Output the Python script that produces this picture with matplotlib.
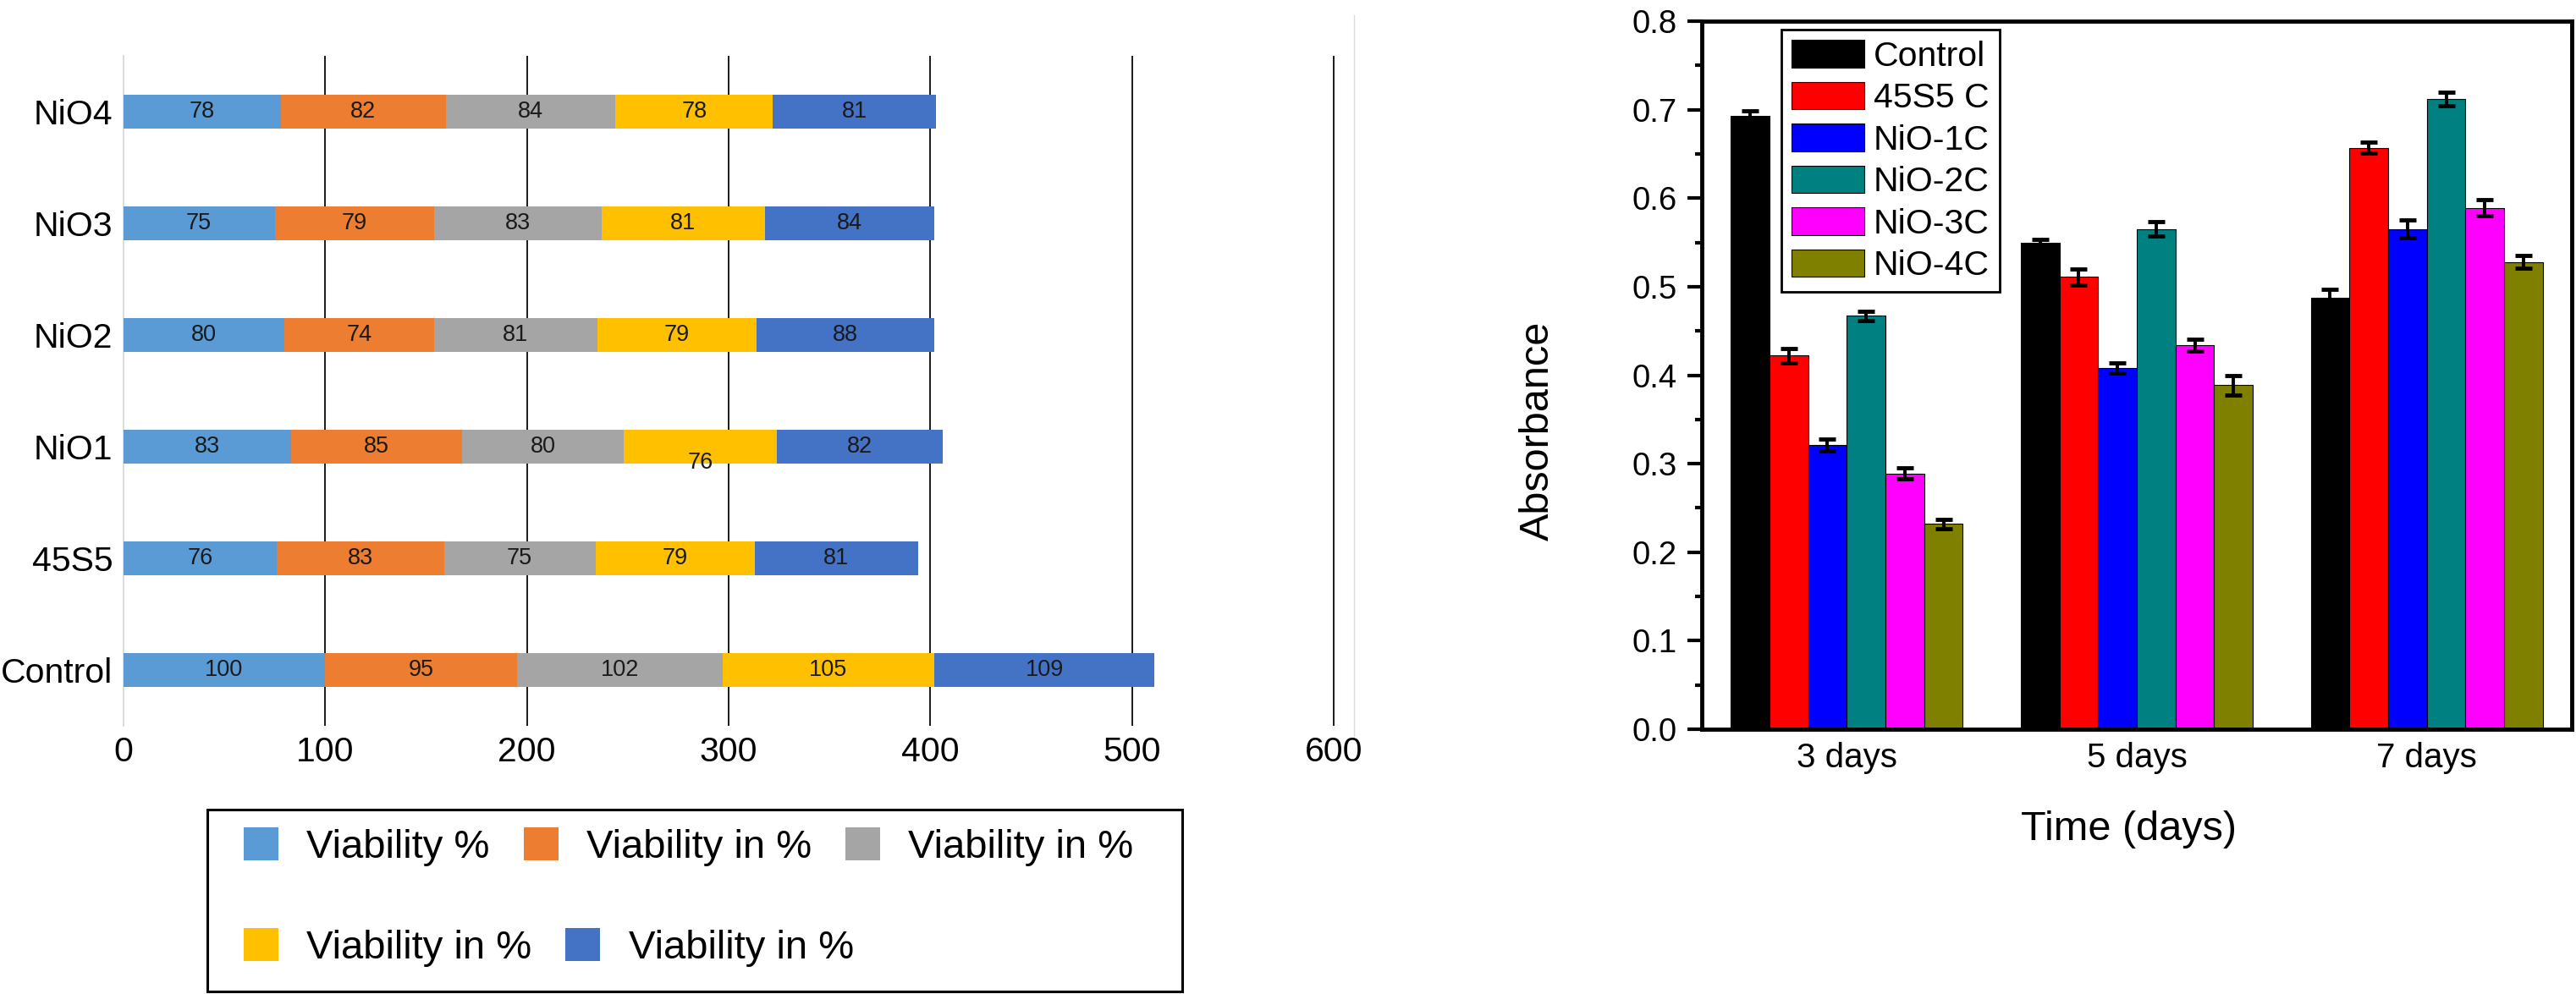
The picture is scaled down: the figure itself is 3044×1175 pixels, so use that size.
import numpy as np
import matplotlib.pyplot as plt
from matplotlib.patches import Rectangle, Patch
from matplotlib.lines import Line2D

plt.rcParams['font.family'] = ['Liberation Sans', 'DejaVu Sans']

# left chart: stacked viability values (bottom row first)
samples = ['Control', '45S5', 'NiO1', 'NiO2', 'NiO3', 'NiO4']
via1 = [100, 76, 83, 80, 75, 78]
via2 = [95, 83, 85, 74, 79, 82]
via3 = [102, 75, 80, 81, 83, 84]
via4 = [105, 79, 76, 79, 81, 78]
via5 = [109, 81, 82, 88, 84, 81]
via_names = ['Viability %', 'Viability in %', 'Viability in %', 'Viability in %', 'Viability in %']
via_colors = ['#5B9BD5', '#ED7D31', '#A5A5A5', '#FFC000', '#4472C4']

# right chart: absorbance per group and day
days = ['3 days', '5 days', '7 days']
groups = ['Control', '45S5 C', 'NiO-1C', 'NiO-2C', 'NiO-3C', 'NiO-4C']
abs_control = [0.693, 0.550, 0.487]
abs_45s5 = [0.422, 0.511, 0.657]
abs_nio1 = [0.321, 0.408, 0.565]
abs_nio2 = [0.467, 0.565, 0.712]
abs_nio3 = [0.289, 0.434, 0.589]
abs_nio4 = [0.232, 0.389, 0.528]
err_control = [0.006, 0.003, 0.010]
err_45s5 = [0.008, 0.009, 0.006]
err_nio1 = [0.007, 0.006, 0.010]
err_nio2 = [0.005, 0.008, 0.008]
err_nio3 = [0.006, 0.007, 0.009]
err_nio4 = [0.005, 0.011, 0.007]
group_colors = ['#000000', '#FF0000', '#0000FF', '#008080', '#FF00FF', '#808000']

W, H = 3044, 1175
fig = plt.figure(figsize=(W / 100, H / 100), dpi=100)

# ---------------- left: stacked horizontal bars ----------------
ax1 = fig.add_axes([145.7 / W, 1 - 858 / H, (1578.5 - 145.7) / W, 792 / H])
series = [via1, via2, via3, via4, via5]
y = np.arange(len(samples))
left = np.zeros(len(samples))
for k, (vals, col) in enumerate(zip(series, via_colors)):
    ax1.barh(y, vals, height=0.3, left=left, color=col, zorder=3)
    for i, v in enumerate(vals):
        dy = 0.0
        if samples[i] == 'NiO1' and k == 3:
            dy = -0.145  # Excel shifted this label down
        ax1.text(left[i] + v / 2, y[i] + dy, str(v), ha='center', va='center',
                 fontsize=19.5, color='#1a1a1a', zorder=4)
    left += np.array(vals)

ax1.set_xlim(0, 601)
ax1.set_ylim(-0.5, 5.5)
ax1.set_xticks(range(0, 700, 100))
ax1.set_yticks(y, samples)
ax1.grid(axis='x', color='#1a1a1a', linewidth=1.4, zorder=0)
ax1.get_xgridlines()[0].set_visible(False)
for s in ['top', 'right', 'bottom']:
    ax1.spines[s].set_visible(False)
ax1.spines['left'].set_color('#D9D9D9')
ax1.spines['left'].set_linewidth(1.3)
ax1.tick_params(axis='both', length=0, labelsize=29.5, pad=9)

# legend of left chart in two rows, framed
h = [Patch(facecolor=c) for c in via_colors]
leg_kw = dict(frameon=False, fontsize=34, handlelength=0.87, handleheight=0.87,
              handletextpad=0.7, columnspacing=0.85, borderpad=0, borderaxespad=0,
              loc='center left')
fig.legend(h[:3], via_names[:3], ncol=3, bbox_to_anchor=(288 / W, 1 - 1001 / H), **leg_kw)
fig.legend(h[3:], via_names[3:], ncol=2, bbox_to_anchor=(288 / W, 1 - 1120 / H), **leg_kw)
fig.add_artist(Rectangle((245 / W, 1 - 1172 / H), (1397 - 245) / W, (1172 - 957) / H,
                         transform=fig.transFigure, fill=False, edgecolor='black', linewidth=2.2))
fig.add_artist(Line2D([1600 / W, 1600 / W], [1 - 18 / H, 1 - 870 / H],
                      transform=fig.transFigure, color='#DDDDDD', linewidth=1))

# ---------------- right: grouped bars with error bars ----------------
ax2 = fig.add_axes([2011 / W, 1 - 862 / H, 1028 / W, 837 / H])
vals2 = [abs_control, abs_45s5, abs_nio1, abs_nio2, abs_nio3, abs_nio4]
errs2 = [err_control, err_45s5, err_nio1, err_nio2, err_nio3, err_nio4]
x = np.arange(len(days))
bw = 0.8 / len(groups)
for i, (v, e, c, g) in enumerate(zip(vals2, errs2, group_colors, groups)):
    ax2.bar(x + (i - 2.5) * bw, v, bw, color=c, edgecolor='black', linewidth=0.8,
            yerr=e, label=g,
            error_kw=dict(ecolor='black', elinewidth=2.8, capsize=7.2, capthick=3.5))

ax2.set_xlim(-0.5, 2.5)
ax2.set_ylim(0, 0.8)
ax2.set_xticks(x, days)
ax2.set_yticks(np.arange(0, 0.81, 0.1))
ax2.set_yticks(np.arange(0.05, 0.8, 0.1), minor=True)
ax2.yaxis.set_major_formatter(plt.FormatStrFormatter('%.1f'))
for s in ax2.spines.values():
    s.set_linewidth(3.5)
ax2.tick_params(axis='y', which='major', direction='out', length=12, width=3,
                labelsize=27.5, pad=9)
ax2.tick_params(axis='y', which='minor', direction='out', length=6, width=3)
ax2.tick_params(axis='x', length=0, labelsize=29, pad=11)

ax2.set_ylabel('Absorbance', fontsize=35)
ax2.yaxis.set_label_coords(-0.1663, 0.4217)
ax2.set_xlabel('Time (days)', fontsize=35)
ax2.xaxis.set_label_coords(0.491, -0.1147)

leg = ax2.legend(loc='upper left', bbox_to_anchor=(0.0914, 0.988), borderaxespad=0,
                 fontsize=29.5, handlelength=2.1, handleheight=0.84, handletextpad=0.25,
                 labelspacing=0.27, borderpad=0.3, fancybox=False, edgecolor='black',
                 framealpha=1)
leg.get_frame().set_linewidth(2)

fig.savefig('out.png', dpi=100)
